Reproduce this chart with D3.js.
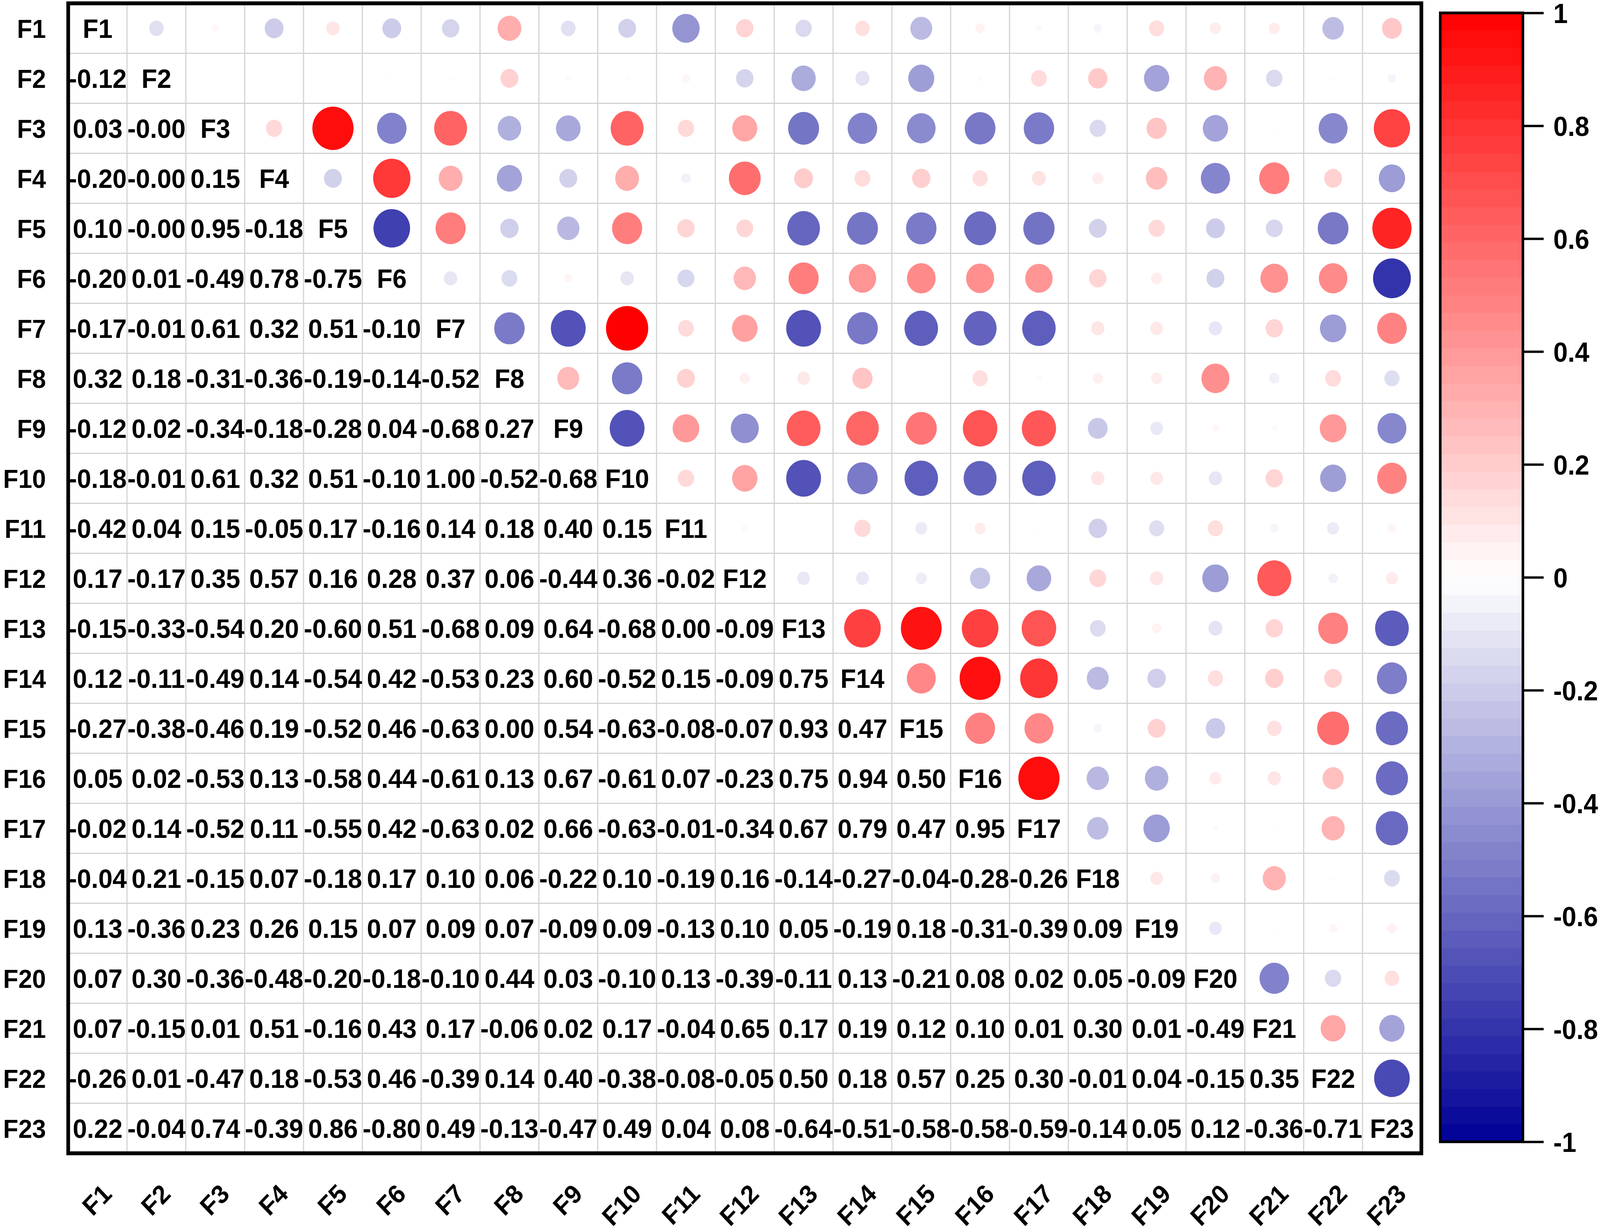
<!DOCTYPE html>
<html>
<head>
<meta charset="utf-8">
<script src="https://cdn.jsdelivr.net/npm/d3@7"></script>
<style>
  html, body { margin: 0; padding: 0; background: #fff; overflow: hidden; }
  #chart { display: block; width: 100vw; height: 100vh; }
  svg text { font-family: "Liberation Sans", Arial, sans-serif; font-weight: bold; fill: #000; }
</style>
</head>
<body>
<svg id="chart" viewBox="0 0 4317 3154" preserveAspectRatio="none"></svg>
<script>
// ---- Data ----
const labels = ["F1","F2","F3","F4","F5","F6","F7","F8","F9","F10","F11","F12",
  "F13","F14","F15","F16","F17","F18","F19","F20","F21","F22","F23"];

// lower triangle, row i holds r(Fi, F1..F(i-1)); -0.004 shows as "-0.00"
const lowerRows = [
  [],
  [-0.12],
  [0.03, -0.004],
  [-0.20, -0.004, 0.15],
  [0.10, -0.004, 0.95, -0.18],
  [-0.20, 0.01, -0.49, 0.78, -0.75],
  [-0.17, -0.01, 0.61, 0.32, 0.51, -0.10],
  [0.32, 0.18, -0.31, -0.36, -0.19, -0.14, -0.52],
  [-0.12, 0.02, -0.34, -0.18, -0.28, 0.04, -0.68, 0.27],
  [-0.18, -0.01, 0.61, 0.32, 0.51, -0.10, 1.00, -0.52, -0.68],
  [-0.42, 0.04, 0.15, -0.05, 0.17, -0.16, 0.14, 0.18, 0.40, 0.15],
  [0.17, -0.17, 0.35, 0.57, 0.16, 0.28, 0.37, 0.06, -0.44, 0.36, -0.02],
  [-0.15, -0.33, -0.54, 0.20, -0.60, 0.51, -0.68, 0.09, 0.64, -0.68, 0.00, -0.09],
  [0.12, -0.11, -0.49, 0.14, -0.54, 0.42, -0.53, 0.23, 0.60, -0.52, 0.15, -0.09, 0.75],
  [-0.27, -0.38, -0.46, 0.19, -0.52, 0.46, -0.63, 0.00, 0.54, -0.63, -0.08, -0.07, 0.93, 0.47],
  [0.05, 0.02, -0.53, 0.13, -0.58, 0.44, -0.61, 0.13, 0.67, -0.61, 0.07, -0.23, 0.75, 0.94, 0.50],
  [-0.02, 0.14, -0.52, 0.11, -0.55, 0.42, -0.63, 0.02, 0.66, -0.63, -0.01, -0.34, 0.67, 0.79, 0.47, 0.95],
  [-0.04, 0.21, -0.15, 0.07, -0.18, 0.17, 0.10, 0.06, -0.22, 0.10, -0.19, 0.16, -0.14, -0.27, -0.04, -0.28, -0.26],
  [0.13, -0.36, 0.23, 0.26, 0.15, 0.07, 0.09, 0.07, -0.09, 0.09, -0.13, 0.10, 0.05, -0.19, 0.18, -0.31, -0.39, 0.09],
  [0.07, 0.30, -0.36, -0.48, -0.20, -0.18, -0.10, 0.44, 0.03, -0.10, 0.13, -0.39, -0.11, 0.13, -0.21, 0.08, 0.02, 0.05, -0.09],
  [0.07, -0.15, 0.01, 0.51, -0.16, 0.43, 0.17, -0.06, 0.02, 0.17, -0.04, 0.65, 0.17, 0.19, 0.12, 0.10, 0.01, 0.30, 0.01, -0.49],
  [-0.26, 0.01, -0.47, 0.18, -0.53, 0.46, -0.39, 0.14, 0.40, -0.38, -0.08, -0.05, 0.50, 0.18, 0.57, 0.25, 0.30, -0.01, 0.04, -0.15, 0.35],
  [0.22, -0.04, 0.74, -0.39, 0.86, -0.80, 0.49, -0.13, -0.47, 0.49, 0.04, 0.08, -0.64, -0.51, -0.58, -0.58, -0.59, -0.14, 0.05, 0.12, -0.36, -0.71]
];

const colorTicks = [1, 0.8, 0.6, 0.4, 0.2, 0, -0.2, -0.4, -0.6, -0.8, -1];

// ---- Layout ----
const plot = { left: 184, top: 8.5, right: 3835, bottom: 2952.5 };
const bar = { left: 3886, right: 4109, top: 33, bottom: 2923 };

const svg = d3.select("#chart");

const x = d3.scaleBand().domain(labels).range([plot.left, plot.right]);
const y = d3.scaleBand().domain(labels).range([plot.top, plot.bottom]);
const color = d3.scaleLinear().domain([-1, 0, 1]).range(["rgb(0,0,150)", "#ffffff", "#ff0000"]);
const radius = d3.scaleSqrt().domain([0, 1]).range([0, 57]);

// full cell list built from the lower triangle (mirrored above the diagonal)
const cells = [];
labels.forEach((rowName, i) => {
  labels.forEach((colName, j) => {
    if (i === j) return;
    const v = i > j ? lowerRows[i][j] : lowerRows[j][i];
    cells.push({ row: rowName, col: colName, value: v, lower: i > j });
  });
});

// ---- Grid ----
const grid = svg.append("g");
labels.slice(1).forEach(name => {
  grid.append("line")
    .attr("x1", x(name)).attr("x2", x(name))
    .attr("y1", plot.top).attr("y2", plot.bottom)
    .attr("stroke", "#d2d2d2").attr("stroke-width", 3);
  grid.append("line")
    .attr("x1", plot.left).attr("x2", plot.right)
    .attr("y1", y(name)).attr("y2", y(name))
    .attr("stroke", "#d2d2d2").attr("stroke-width", 3);
});

// ---- Circles (upper triangle) ----
svg.append("g").selectAll("circle")
  .data(cells.filter(d => !d.lower))
  .join("circle")
  .attr("cx", d => x(d.col) + x.bandwidth() / 2)
  .attr("cy", d => y(d.row) + y.bandwidth() / 2)
  .attr("r", d => radius(Math.abs(d.value)))
  .attr("fill", d => color(d.value));

// ---- Values (lower triangle) ----
svg.append("g").selectAll("text")
  .data(cells.filter(d => d.lower))
  .join("text")
  .attr("x", d => x(d.col) + x.bandwidth() / 2)
  .attr("y", d => y(d.row) + y.bandwidth() / 2)
  .attr("dy", "0.36em")
  .attr("text-anchor", "middle")
  .attr("font-size", 69)
  .text(d => d.value.toFixed(2));

// diagonal names
svg.append("g").selectAll("text")
  .data(labels)
  .join("text")
  .attr("x", d => x(d) + x.bandwidth() / 2)
  .attr("y", d => y(d) + y.bandwidth() / 2)
  .attr("dy", "0.36em")
  .attr("text-anchor", "middle")
  .attr("font-size", 69)
  .text(d => d);

// ---- Frame ----
svg.append("rect")
  .attr("x", plot.left).attr("y", plot.top)
  .attr("width", plot.right - plot.left).attr("height", plot.bottom - plot.top)
  .attr("fill", "none").attr("stroke", "#000").attr("stroke-width", 10);

// ---- Axes ----
const yAxis = svg.append("g")
  .attr("transform", `translate(${plot.left - 5},0)`)
  .call(d3.axisLeft(y).tickSize(0).tickPadding(55));
yAxis.select(".domain").remove();
yAxis.selectAll("text")
  .attr("font-size", 67)
  .attr("font-family", null)
  .attr("dy", "0.36em");

const xAxis = svg.append("g")
  .attr("transform", `translate(0,${plot.bottom})`)
  .call(d3.axisBottom(x).tickSize(0).tickPadding(0));
xAxis.select(".domain").remove();
xAxis.selectAll("text")
  .attr("font-size", 67)
  .attr("font-family", null)
  .attr("text-anchor", "end")
  .attr("dy", null)
  .attr("y", null)
  .attr("transform", `translate(42,108) rotate(-45)`);

// ---- Colour bar ----
const barY = d3.scaleLinear().domain([-1, 1]).range([bar.bottom, bar.top]);
const steps = 64;
const stepVals = d3.range(steps).map(k => -1 + (k + 0.5) * 2 / steps);
svg.append("g").selectAll("rect")
  .data(stepVals)
  .join("rect")
  .attr("x", bar.left)
  .attr("width", bar.right - bar.left)
  .attr("y", d => barY(d + 1 / steps))
  .attr("height", (bar.bottom - bar.top) / steps + 0.6)
  .attr("fill", d => color(d));

svg.append("rect")
  .attr("x", bar.left).attr("y", bar.top)
  .attr("width", bar.right - bar.left).attr("height", bar.bottom - bar.top)
  .attr("fill", "none").attr("stroke", "#000").attr("stroke-width", 7);

const cAxis = svg.append("g")
  .attr("transform", `translate(${bar.right},0)`)
  .call(d3.axisRight(barY).tickValues(colorTicks).tickSize(56).tickPadding(26)
    .tickFormat(d => String(d)));
cAxis.select(".domain").remove();
cAxis.selectAll("line").attr("stroke", "#000").attr("stroke-width", 6);
cAxis.selectAll("text")
  .attr("font-size", 70)
  .attr("font-family", null)
  .attr("dy", "0.36em");
</script>
</body>
</html>
